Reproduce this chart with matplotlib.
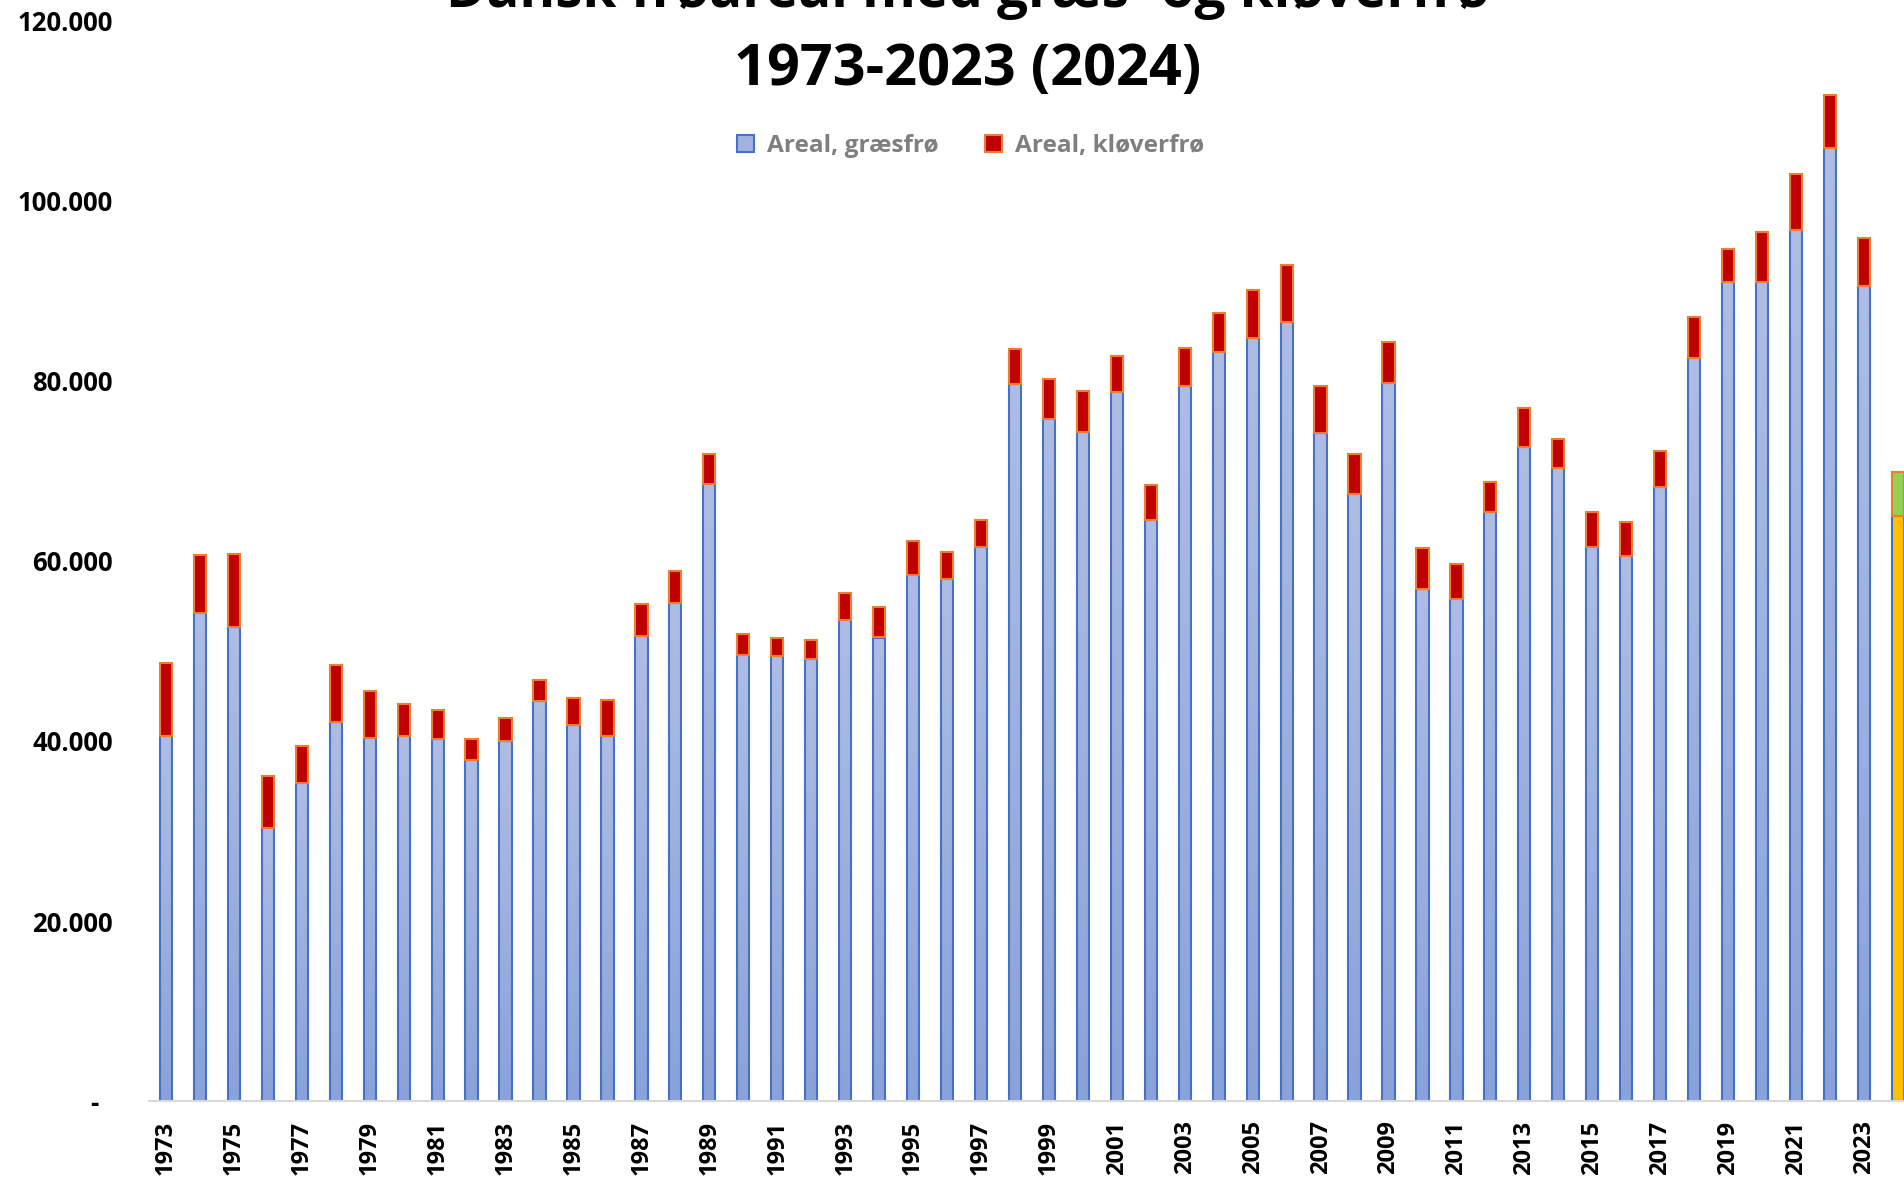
import numpy as np
import matplotlib
matplotlib.use("Agg")
import matplotlib.pyplot as plt
from matplotlib.patches import Patch
from matplotlib.colors import LinearSegmentedColormap

plt.rcParams['font.family'] = ['Open Sans', 'DejaVu Sans']

# ---------------- data ----------------
years = list(range(1973, 2025))
grass = [40600, 54200, 52700, 30300, 35300, 42100, 40300, 40600, 40200, 37900,
         40000, 44400, 41800, 40600, 51700, 55300, 68600, 49600, 49400, 49100,
         53400, 51500, 58400, 58000, 61600, 79700, 75800, 74300, 78800, 64500,
         79400, 83200, 84800, 86600, 74200, 67400, 79800, 56900, 55800, 65400,
         72700, 70300, 61500, 60600, 68200, 82500, 91000, 91000, 96800, 105900,
         90500, 65000]
clover = [8100, 6500, 8100, 5800, 4100, 6300, 5300, 3500, 3200, 2300,
          2600, 2400, 3000, 4000, 3500, 3600, 3300, 2300, 2000, 2100,
          3000, 3400, 3800, 3000, 2900, 3900, 4400, 4600, 4000, 3900,
          4300, 4300, 5300, 6300, 5200, 4500, 4500, 4600, 3900, 3400,
          4300, 3200, 3900, 3700, 4000, 4600, 3700, 5600, 6200, 5900,
          5400, 4900]
y_ticks = [0, 20000, 40000, 60000, 80000, 100000, 120000]
y_labels = ['-  ', '20.000', '40.000', '60.000', '80.000', '100.000', '120.000']
series_names = ['Areal, græsfrø', 'Areal, kløverfrø']
title_1 = 'Dansk frøareal med græs- og kløverfrø'
title_2 = '1973-2023 (2024)'

# ---------------- figure ----------------
W, H = 1904, 1179
fig = plt.figure(figsize=(W / 100, H / 100), dpi=100)
ax = fig.add_axes([149 / W, 1 - 1101 / H, 1 - 149 / W, (1101 - 21) / H])

x = np.arange(len(years))
bw = 0.36
n = len(years)

grass_face = ['none'] * (n - 1) + ['#FFC000']
clover_face = ['#C00000'] * (n - 1) + ['#92D050']

gbars = ax.bar(x, grass, width=bw, facecolor='none', edgecolor='#4472C4',
               linewidth=1.5, zorder=3)
for i, b in enumerate(gbars):
    b.set_facecolor(grass_face[i])
ax.bar(x, clover, bottom=grass, width=bw, color=clover_face,
       edgecolor='#ED7D31', linewidth=1.5, zorder=3)

# gradient fill for the grass bars
cmap = LinearSegmentedColormap.from_list('g', ['#8AA2DA', '#AFBDE4'])
grad = np.linspace(0, 1, 256).reshape(-1, 1)
for i, b in enumerate(gbars[:-1]):
    im = ax.imshow(grad, cmap=cmap, origin='lower', aspect='auto',
                   extent=(x[i] - bw / 2, x[i] + bw / 2, 0, grass[i]),
                   zorder=2, interpolation='bilinear')
    im.set_clip_path(b)

ax.set_aspect('auto')
ax.set_xlim(-0.5, n - 1 + 0.18)
ax.set_ylim(0, 120000)

ax.set_yticks(y_ticks)
ax.set_yticklabels(y_labels, fontsize=18.5, fontweight='bold')
ax.set_xticks(x[::2])
ax.set_xticklabels([str(v) for v in years[::2]], rotation=90,
                   fontsize=17, fontweight='bold')
ax.tick_params(axis='both', length=0)
ax.tick_params(axis='y', pad=26)
ax.tick_params(axis='x', pad=14)

for s in ['top', 'right', 'left']:
    ax.spines[s].set_visible(False)
ax.spines['bottom'].set_color('#D9D9D9')
ax.spines['bottom'].set_linewidth(1.5)
ax.spines['bottom'].set_zorder(4)

# legend
handles = [Patch(facecolor='#A0B2E0', edgecolor='#4472C4', linewidth=1.5),
           Patch(facecolor='#C00000', edgecolor='#ED7D31', linewidth=1.5)]
fig.legend(handles, series_names, loc='center',
           bbox_to_anchor=(971 / W, 1 - 146 / H), ncol=2, frameon=False,
           prop={'weight': 'bold', 'size': 17.6}, labelcolor='#7F7F7F',
           handlelength=0.68, handleheight=0.68, handletextpad=0.55,
           columnspacing=1.9)

# title (first line partly cut off at the top, as in the reference)
fig.text(968 / W, 1 - 7 / H, title_1, ha='center', va='baseline',
         fontsize=39.3, fontweight='bold')
fig.text(968 / W, 1 - 85 / H, title_2, ha='center', va='baseline',
         fontsize=41.5, fontweight='bold')

fig.savefig('out.png', dpi=100)
